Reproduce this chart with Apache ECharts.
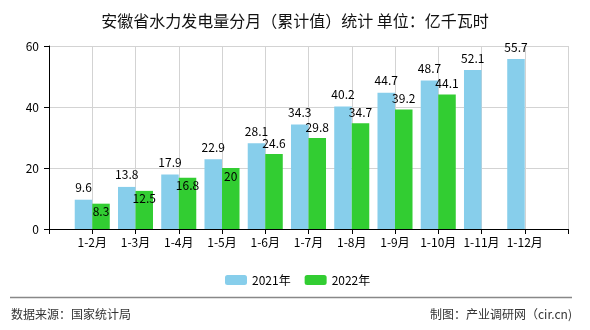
<!DOCTYPE html>
<html>
<head>
<meta charset="utf-8">
<script src="https://cdn.jsdelivr.net/npm/echarts@6/dist/echarts.min.js"></script>
<style>
html,body{margin:0;padding:0;background:#fff;}
#c{width:590px;height:330px;}
</style>
</head>
<body>
<div id="c"></div>
<script>
var categories = ['1-2月','1-3月','1-4月','1-5月','1-6月','1-7月','1-8月','1-9月','1-10月','1-11月','1-12月'];
var values2021 = [9.6,13.8,17.9,22.9,28.1,34.3,40.2,44.7,48.7,52.1,55.7];
var values2022 = [8.3,12.5,16.8,20,24.6,29.8,34.7,39.2,44.1,null,null];
var seriesNames = ['2021年','2022年'];
var yTicks = {min:0, max:60, interval:20};

var FONT = '"Noto Sans CJK SC", sans-serif';
// pad empty slots at both ends so the axis extends half a step beyond outer bars
var cats = [''].concat(categories, ['']);
var d1 = [null].concat(values2021, [null]);
var d2 = [null].concat(values2022, [null]).map(function(v){
  if (v == null) return null;
  var inside = v < 22;
  return {value: v, label: {position: inside ? 'insideTop' : 'top', distance: inside ? 2 : 5}};
});

var chart = echarts.init(document.getElementById('c'), null, {renderer:'canvas'});
chart.setOption({
  animation:false,
  backgroundColor:'#fff',
  title:{
    text:'安徽省水力发电量分月（累计值）统计 单位：亿千瓦时',
    left:'center', top:8,
    textStyle:{fontSize:16, fontWeight:'normal', color:'#111', fontFamily:FONT}
  },
  grid:{left:49, right:22, top:46, bottom:101, containLabel:false},
  legend:{
    left:220, top:269,
    itemWidth:22, itemHeight:10, itemGap:14,
    textStyle:{fontSize:12, color:'#000', fontFamily:FONT},
    data:seriesNames
  },
  xAxis:{
    type:'category', data:cats, boundaryGap:false,
    axisLine:{lineStyle:{color:'#000', width:1}},
    axisTick:{show:true, length:5, lineStyle:{color:'#000'}},
    axisLabel:{interval:0, margin:7, fontSize:12, color:'#000', fontFamily:FONT},
    splitLine:{show:true, lineStyle:{color:'#d3d3d3', width:1}}
  },
  yAxis:{
    type:'value', min:yTicks.min, max:yTicks.max, interval:yTicks.interval,
    axisLine:{show:true, lineStyle:{color:'#000', width:1}},
    axisTick:{show:true, length:5, lineStyle:{color:'#000'}},
    axisLabel:{margin:10, fontSize:12, color:'#000', fontFamily:FONT},
    splitLine:{show:true, lineStyle:{color:'#d3d3d3', width:1}}
  },
  series:[
    {
      name:seriesNames[0], type:'bar', data:d1, barGap:'0%', barCategoryGap:'19%',
      itemStyle:{color:'#87CEEB'},
      label:{show:true, position:'top', distance:6, color:'#000', fontSize:12, fontFamily:FONT}
    },
    {
      name:seriesNames[1], type:'bar', data:d2, barGap:'0%', barCategoryGap:'19%',
      itemStyle:{color:'#32CD32'},
      label:{show:true, position:'top', distance:5, color:'#000', fontSize:12, fontFamily:FONT}
    }
  ],
  graphic:[
    {type:'line', shape:{x1:10, y1:297.5, x2:572, y2:297.5}, style:{stroke:'#888', lineWidth:1.5}},
    {type:'text', left:11, top:308, style:{text:'数据来源：国家统计局', fill:'#333', font:'12px ' + FONT}},
    {type:'text', right:18, top:308, style:{text:'制图：产业调研网（cir.cn)', fill:'#333', font:'12px ' + FONT}}
  ]
});
</script>
</body>
</html>
